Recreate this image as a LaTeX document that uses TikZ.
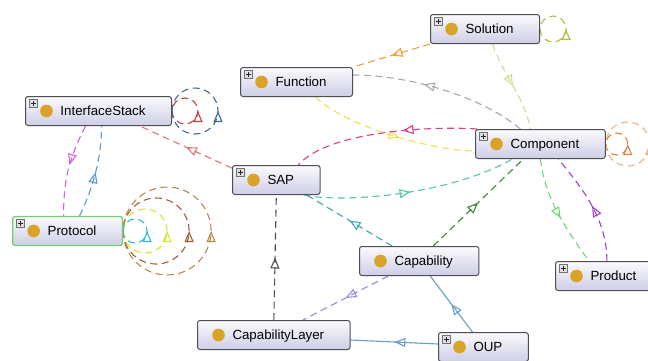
\documentclass[tikz,border=0pt]{standalone}
\usepackage{fontspec}
\setmainfont{Liberation Sans}
\usetikzlibrary{calc,arrows.meta,decorations.markings}
\pgfdeclarelayer{bg}
\pgfsetlayers{bg,main}
\definecolor{boxtop}{RGB}{250,250,253}
\definecolor{boxbot}{RGB}{206,206,230}
\definecolor{boxline}{RGB}{78,78,84}
\definecolor{dotc}{RGB}{216,163,40}
\definecolor{protoline}{RGB}{108,212,108}
\definecolor{cSapIs}{RGB}{224,120,120}
\definecolor{cIsR}{RGB}{196,64,64}
\definecolor{cIsB}{RGB}{58,109,150}
\definecolor{cIsPr}{RGB}{204,102,224}
\definecolor{cPrIs}{RGB}{91,155,208}
\definecolor{cPrC}{RGB}{48,184,224}
\definecolor{cPrY}{RGB}{214,230,48}
\definecolor{cPrBr}{RGB}{168,90,58}
\definecolor{cPrT}{RGB}{184,138,74}
\definecolor{cSoL}{RGB}{184,184,64}
\definecolor{cCoS}{RGB}{224,128,64}
\definecolor{cCoL}{RGB}{240,176,128}
\definecolor{cSoFn}{RGB}{240,160,48}
\definecolor{cCoFn}{RGB}{168,168,168}
\definecolor{cFnCo}{RGB}{240,224,80}
\definecolor{cCoSap}{RGB}{224,60,140}
\definecolor{cSapCo}{RGB}{80,200,160}
\definecolor{cCaSap}{RGB}{64,168,168}
\definecolor{cCaCo}{RGB}{58,138,58}
\definecolor{cCoPd}{RGB}{112,216,112}
\definecolor{cPdCo}{RGB}{160,64,208}
\definecolor{cSoCo}{RGB}{216,216,152}
\definecolor{cClSap}{RGB}{80,80,80}
\definecolor{cCaCl}{RGB}{154,136,232}
\definecolor{cOup}{RGB}{106,158,192}
\newcommand\ogDot{\fill[dotc] ([xshift=21pt]path picture bounding box.west) circle[radius=6.3pt];}
\newcommand\ogPlus{%
  \draw[draw=black!55, fill=black!12, line width=0.5pt, sharp corners]
    ([shift={(4pt,-3pt)}]path picture bounding box.north west) rectangle ++(7.5pt,-7.5pt);
  \draw[black!85, line width=0.8pt, sharp corners]
    ([shift={(5.5pt,-6.75pt)}]path picture bounding box.north west) -- ++(4.5pt,0pt)
    ([shift={(7.75pt,-4.5pt)}]path picture bounding box.north west) -- ++(0pt,-4.5pt);}
\tikzset{
  clsbase/.style={draw=boxline, line width=1pt, rounded corners=2.5pt,
    top color=boxtop, bottom color=boxbot, minimum height=29pt,
    inner xsep=0pt, inner ysep=0pt, anchor=west,
    font=\fontsize{13.3}{15}\selectfont, text height=9.6pt, text depth=0pt,
    execute at begin node={\hspace*{35pt}}, execute at end node={\hspace*{26pt}}},
  cls/.style={clsbase, path picture={\ogDot\ogPlus}},
  clsnp/.style={clsbase, path picture={\ogDot}},
  dl/.style={draw=#1, line width=1.1pt, dash pattern=on 7pt off 4.5pt},
  sl/.style={draw=#1, line width=1.1pt},
  midarr/.style={postaction={decorate, decoration={markings,
      mark=at position #1 with {\arrow[solid]{Triangle[open, length=11pt, width=9pt]}}}}},
  midarr/.default=0.5
}
\begin{document}
\begin{tikzpicture}[x=1pt,y=-1pt]
\useasboundingbox (0,0) rectangle (648,360);
% nodes
\node[cls] (IS) at (25,111) {InterfaceStack};
\node[cls, draw=protoline, line width=1.3pt] (PR) at (12,231) {Protocol};
\node[cls] (FN) at (240,82) {Function};
\node[cls] (SO) at (430,29) {Solution};
\node[cls] (SAP) at (232,180) {SAP};
\node[cls] (CO) at (475,144) {Component};
\node[clsnp] (CA) at (359,261) {Capability};
\node[cls] (PD) at (555,276) {Product};
\node[clsnp] (CL) at (197,335) {CapabilityLayer};
\node[cls] (OUP) at (438,347) {OUP};
\begin{pgfonlayer}{bg}
\fill[white] (0,0) rectangle (648,360);
% self loops
\draw[dl=cIsR, midarr] (IS.east) arc[start angle=180, end angle=540, radius=13pt];
\draw[dl=cIsB, midarr] (IS.east) arc[start angle=180, end angle=540, radius=23pt];
\draw[dl=cPrC, midarr] (PR.east) arc[start angle=180, end angle=540, radius=12pt];
\draw[dl=cPrY, midarr] (PR.east) arc[start angle=180, end angle=540, radius=22pt];
\draw[dl=cPrBr, midarr] (PR.east) arc[start angle=180, end angle=540, radius=33pt];
\draw[dl=cPrT, midarr] (PR.east) arc[start angle=180, end angle=540, radius=44pt];
\draw[dl=cSoL, midarr] (SO.east) arc[start angle=180, end angle=540, radius=13pt];
\draw[dl=cCoS, midarr] (CO.east) arc[start angle=180, end angle=540, radius=11pt];
\draw[dl=cCoL, midarr] (CO.east) arc[start angle=180, end angle=540, radius=22pt];
% connectors
\draw[dl=cSapIs, midarr] (SAP.165) -- (IS.-20);
\draw[dl=cIsPr, midarr=0.45] ($(IS.south)+(-13,0)$) .. controls +(-15,30) and +(0,-40) .. ($(PR.north)+(-4,0)$);
\draw[dl=cPrIs, midarr] ($(PR.north)+(12,0)$) .. controls +(12,-25) and +(0,35) .. ($(IS.south)+(3,0)$);
\draw[dl=cSoFn, midarr] (SO.south west) -- (FN.north east);
\draw[dl=cCoFn, midarr=0.6] ($(CO.north)+(-20,0)$) .. controls +(-35,-30) and +(60,0) .. ($(FN.east)+(0,-7)$);
\draw[dl=cFnCo, midarr=0.55] ($(FN.south)+(19,0)$) .. controls +(30,30) and +(-40,0) .. ($(CO.west)+(0,7)$);
\draw[dl=cCoSap, midarr=0.4] ($(CO.north west)+(2,0)$) .. controls +(-40,-3) and +(30,-35) .. ($(SAP.north)+(22,0)$);
\draw[dl=cSapCo, midarr] ($(SAP.south east)+(-17,0)$) .. controls +(37,8) and +(-65,37) .. ($(CO.south)+(-28,0)$);
\draw[dl=cCaSap, midarr] ($(CA.north)+(-27,0)$) -- ($(SAP.south east)+(-14,0)$);
\draw[dl=cCaCo, midarr] ($(CA.north)+(14,0)$) -- ($(CO.south)+(-17,0)$);
\draw[dl=cCoPd, midarr=0.55] (CO.south) .. controls +(5,40) and +(-25,-35) .. ($(PD.north)+(-20,0)$);
\draw[dl=cPdCo, midarr] ($(PD.north)+(-2,0)$) .. controls +(0,-45) and +(20,25) .. ($(CO.south)+(18,0)$);
\draw[dl=cSoCo, midarr] ($(SO.south)+(7.5,0)$) .. controls +(10,30) and +(-5,-30) .. ($(CO.north)+(-10,0)$);
\draw[dl=cClSap, midarr] (CL.north) -- (SAP.south);
\draw[dl=cCaCl, midarr] ($(CA.south)+(-31,0)$) -- ($(CL.north)+(29,0)$);
\draw[sl=cOup, midarr] ($(OUP.north)+(-11,0)$) -- ($(CA.south)+(11,0)$);
\draw[sl=cOup, midarr] ($(OUP.west)+(0,-3)$) -- ($(CL.east)+(0,5)$);
\end{pgfonlayer}
\end{tikzpicture}
\end{document}
